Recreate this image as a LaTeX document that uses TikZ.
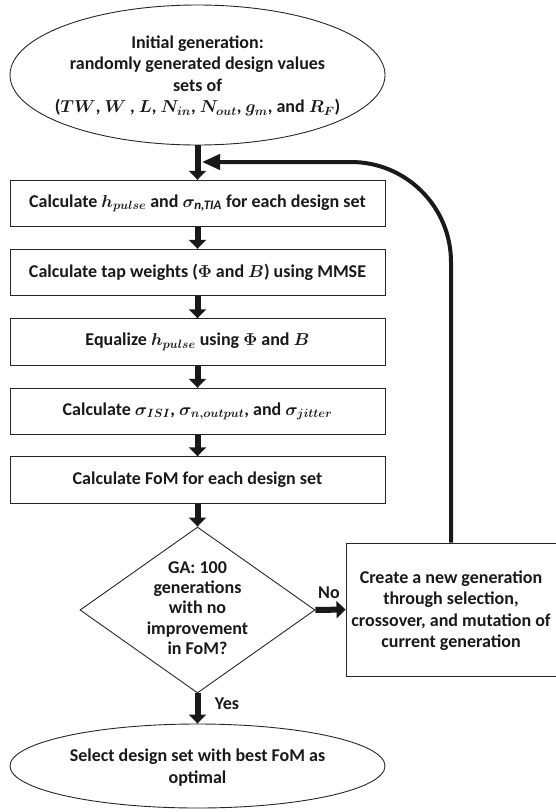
\documentclass[tikz,border=0pt]{standalone}
\usepackage{amsmath}
\usepackage[no-math]{fontspec}
\setmainfont{Carlito}
\DeclareMathSizes{18}{18}{13}{10}
\usetikzlibrary{shapes.geometric,arrows.meta}
\begin{document}
\begin{tikzpicture}[x=1pt,y=-1pt,
  box/.style={draw=black!85, line width=0.9pt, minimum width=375pt, minimum height=46.5pt, inner sep=0pt,
    font=\fontsize{18}{21.5}\selectfont\bfseries\boldmath, text=black!90},
  oval/.style={draw=black!85, line width=0.9pt, ellipse, inner sep=0pt},
  txt/.style={font=\fontsize{18}{21.5}\selectfont\bfseries\boldmath, align=center, text=black!90, inner sep=0pt},
  flow/.style={line width=6pt, black!90, -{Triangle[width=17pt,length=9pt]}},
  fb/.style={line width=4pt, black!90, -{Triangle[width=15pt,length=18pt]}, rounded corners=100pt}]
\useasboundingbox (0,0) rectangle (556,812);

\node[oval, minimum width=375pt, minimum height=140pt] (e1) at (197.5,75) {};
\node[txt] (t1) at (197.5,76) {Initial generation:\\ randomly generated design values\\ sets of\\
  ($TW$, $W$ , $L$, $N_{in}$, $N_{out}$, $g_m$, and $R_F$)};

\node[box] (b1) at (197.5,203.5) {Calculate $h_{pulse}$ and $\sigma_{\text{\itshape n,TIA}}$ for each design set};
\node[box] (b2) at (197.5,272.5) {Calculate tap weights ($\mathbf{\Phi}$ and $B$) using MMSE};
\node[box] (b3) at (197.5,342) {Equalize $h_{pulse}$ using $\mathbf{\Phi}$ and $B$};
\node[box] (b4) at (197.5,411.5) {Calculate $\sigma_{ISI}$, $\sigma_{n,output}$, and $\sigma_{jitter}$};
\node[box] (b5) at (197.5,480) {Calculate FoM for each design set};

\node[draw=black!85, line width=0.9pt, diamond, minimum width=235pt, minimum height=166pt, inner sep=0pt] (d) at (197.5,610) {};
\node[txt, font=\fontsize{18}{20.3}\selectfont\bfseries] (dt) at (197.5,608) {GA: 100\\ generations\\ with no\\ improvement\\ in FoM?};

\node[draw=black!85, line width=0.9pt, minimum width=210pt, minimum height=133pt, inner sep=0pt] (nb) at (451,609.5) {};
\node[txt] (nt) at (451,610.5) {Create a new generation\\ through selection,\\ crossover, and mutation of\\ current generation};

\node[oval, minimum width=375pt, minimum height=84pt] (e2) at (197.5,766) {};
\node[txt] (t2) at (197.5,767.5) {Select design set with best FoM as\\ optimal};

\node[txt] (no) at (329,593) {No};
\node[txt] (yes) at (227,704) {Yes};

\coordinate (fbend) at (202,162);

\draw[flow] (e1.south) -- (b1.north);
\draw[flow] (b1.south) -- (b2.north);
\draw[flow] (b2.south) -- (b3.north);
\draw[flow] (b3.south) -- (b4.north);
\draw[flow] (b4.south) -- (b5.north);
\draw[flow] (b5.south) -- (d.north);
\draw[flow] (d.east) -- (nb.west);
\draw[flow] (d.south) -- (e2.north);
\draw[fb] (nb.north) |- (fbend);
\end{tikzpicture}
\end{document}
